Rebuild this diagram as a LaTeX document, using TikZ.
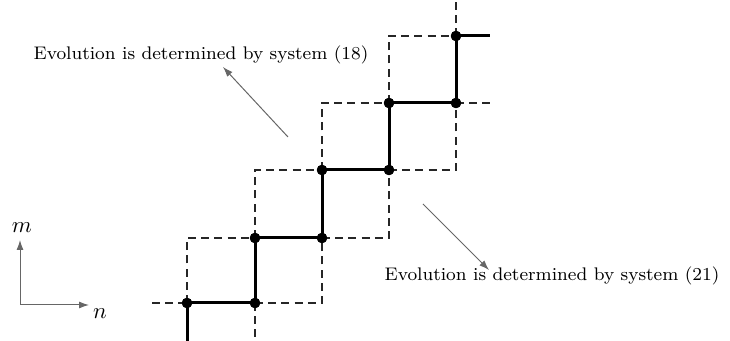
\documentclass[tikz,border=0pt]{standalone}
\usetikzlibrary{arrows.meta}
\newcommand{\wideText}[1]{\scalebox{1.14}{\footnotesize #1}}
\newcommand{\axisText}[1]{\scalebox{1.14}{\normalsize #1}}
\begin{document}
\begin{tikzpicture}[x=0.5pt,y=-0.5pt,
  solidpath/.style={line width=1.5pt},
  dashpath/.style={line width=0.55pt, draw=black!85, dash pattern=on 4pt off 2.6pt},
  dot/.style={circle,fill=black,inner sep=0pt,minimum size=5.2pt},
  grayarrow/.style={draw=black!60, line width=0.5pt, -{Latex[length=5pt,width=3.5pt]}},
  lbl/.style={inner sep=0pt}]
\useasboundingbox (0,0) rectangle (730,341);
% lattice points
\node[dot] (p0) at (187,303) {};
\node[dot] (p1) at (255,303) {};
\node[dot] (p2) at (255,238) {};
\node[dot] (p3) at (322,238) {};
\node[dot] (p4) at (322,170) {};
\node[dot] (p5) at (389,170) {};
\node[dot] (p6) at (389,103) {};
\node[dot] (p7) at (456,103) {};
\node[dot] (p8) at (456,36) {};
% stub ends and corners
\coordinate (s0) at (187,341);
\coordinate (s1) at (255,341);
\coordinate (sl) at (152,303);
\coordinate (se) at (490,36);
\coordinate (sr) at (490,103);
\coordinate (st) at (456,0);
\coordinate (c0) at (187,238);
\coordinate (c1) at (322,303);
\coordinate (c2) at (255,170);
\coordinate (c3) at (389,238);
\coordinate (c4) at (322,103);
\coordinate (c5) at (456,170);
\coordinate (c6) at (389,36);
% dashed
\draw[dashpath] (sl) -- (p0.center);
\draw[dashpath] (p1.center) -- (s1);
\draw[dashpath] (p0.center) -- (c0) -- (p2.center);
\draw[dashpath] (p1.center) -- (c1) -- (p3.center);
\draw[dashpath] (p2.center) -- (c2) -- (p4.center);
\draw[dashpath] (p3.center) -- (c3) -- (p5.center);
\draw[dashpath] (p4.center) -- (c4) -- (p6.center);
\draw[dashpath] (p5.center) -- (c5) -- (p7.center);
\draw[dashpath] (p6.center) -- (c6) -- (p8.center);
\draw[dashpath] (p7.center) -- (sr);
\draw[dashpath] (p8.center) -- (st);
% solid staircase
\draw[solidpath] (s0) -- (p0.center) -- (p1.center) -- (p2.center) -- (p3.center) -- (p4.center) -- (p5.center) -- (p6.center) -- (p7.center) -- (p8.center) -- (se);
\foreach \i in {0,...,8} \node[dot] at (p\i) {};
% labels and arrows
\node[lbl] (t18) at (201,55) {\wideText{Evolution is determined by system (18)}};
\node[lbl] (t21) at (552,276) {\wideText{Evolution is determined by system (21)}};
\coordinate (a1s) at (288,137);
\coordinate (a1e) at (223,67);
\coordinate (a2s) at (423,204);
\coordinate (a2e) at (489,270);
\draw[grayarrow] (a1s) -- (a1e);
\draw[grayarrow] (a2s) -- (a2e);
% axes
\coordinate (o) at (20,305);
\coordinate (my) at (20,240);
\coordinate (nx) at (89,305);
\draw[grayarrow] (o) -- (my);
\draw[grayarrow] (o) -- (nx);
\node[lbl] (m) at (22,228) {\axisText{$m$}};
\node[lbl] (n) at (100,314) {\axisText{$n$}};
\end{tikzpicture}
\end{document}
